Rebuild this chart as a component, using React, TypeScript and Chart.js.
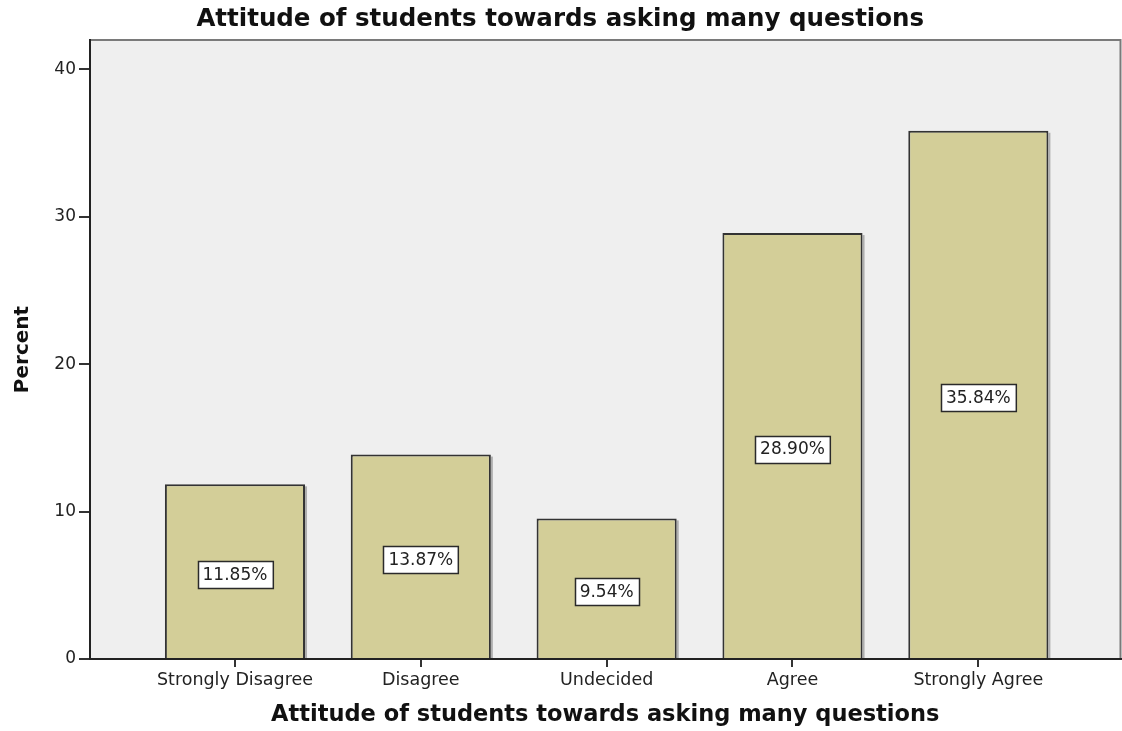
import React, { useEffect, useRef } from "react";
import { Chart, registerables } from "chart.js";

Chart.register(...registerables);

const categories = ["Strongly Disagree", "Disagree", "Undecided", "Agree", "Strongly Agree"];
const percents = [11.85, 13.87, 9.54, 28.9, 35.84];
const yTicks = [0, 10, 20, 30, 40];
const chartTitle = "Attitude of students towards asking many questions";
const xTitle = "Attitude of students towards asking many questions";
const yTitle = "Percent";

const FONT = "'DejaVu Sans', Verdana, sans-serif";

// Grey plot background with a thin frame on the top and right edges
const plotFrame = {
  id: "plotFrame",
  beforeDraw(chart: any) {
    const { ctx, chartArea } = chart;
    const { left, top, right, bottom } = chartArea;
    ctx.save();
    ctx.fillStyle = "#efefef";
    ctx.fillRect(left, top, right - left, bottom - top);
    ctx.strokeStyle = "#7a7a7a";
    ctx.lineWidth = 2;
    ctx.beginPath();
    ctx.moveTo(left, top);
    ctx.lineTo(right, top);
    ctx.lineTo(right, bottom);
    ctx.stroke();
    ctx.restore();
  },
};

// Soft shadow strip on the right side of each bar
const barShadow = {
  id: "barShadow",
  beforeDatasetsDraw(chart: any) {
    const { ctx } = chart;
    const meta = chart.getDatasetMeta(0);
    ctx.save();
    ctx.fillStyle = "rgba(120,120,120,0.55)";
    meta.data.forEach((bar: any) => {
      const half = bar.width / 2;
      ctx.fillRect(bar.x + half, bar.y + 2, 2, bar.base - bar.y - 2);
    });
    ctx.restore();
  },
};

// Boxed percentage labels near the middle height of each bar
const valueBoxes = {
  id: "valueBoxes",
  afterDatasetsDraw(chart: any) {
    const { ctx } = chart;
    const yScale = chart.scales.y;
    const meta = chart.getDatasetMeta(0);
    ctx.save();
    ctx.font = `17px ${FONT}`;
    ctx.textAlign = "center";
    ctx.textBaseline = "middle";
    meta.data.forEach((bar: any, i: number) => {
      const v = percents[i];
      const text = `${v.toFixed(2)}%`;
      const cy = yScale.getPixelForValue(v / 2) + 3;
      const w = ctx.measureText(text).width + 10;
      const h = 27;
      const x0 = Math.round(bar.x - w / 2) + 0.5;
      const y0 = Math.round(cy - h / 2) + 0.5;
      ctx.fillStyle = "#ffffff";
      ctx.fillRect(x0, y0, w, h);
      ctx.strokeStyle = "#2a2a2a";
      ctx.lineWidth = 1.5;
      ctx.strokeRect(x0, y0, w, h);
      ctx.fillStyle = "#222222";
      ctx.fillText(text, bar.x, cy + 1);
    });
    ctx.restore();
  },
};

export default function App() {
  const canvasRef = useRef<HTMLCanvasElement | null>(null);

  useEffect(() => {
    if (!canvasRef.current) return;
    const chart = new Chart(canvasRef.current, {
      type: "bar",
      data: {
        datasets: [
          {
            data: percents.map((p, i) => ({ x: i, y: p })),
            backgroundColor: "#d3ce98",
            borderColor: "#333333",
            borderWidth: 2,
            borderSkipped: "bottom",
            barPercentage: 1,
            categoryPercentage: 0.754,
          },
        ],
      },
      options: {
        responsive: false,
        animation: false,
        devicePixelRatio: 1,
        layout: { padding: { left: 0, right: 1.5, top: 0, bottom: 0 } },
        plugins: {
          legend: { display: false },
          tooltip: { enabled: false },
          title: {
            display: true,
            text: chartTitle,
            color: "#111111",
            font: { family: FONT, size: 24.5, weight: "bold", lineHeight: 1.2 },
            padding: { top: 5, bottom: 5.6 },
          },
        },
        scales: {
          x: {
            type: "linear",
            offset: false,
            min: -0.78,
            max: 4.765,
            afterBuildTicks(scale: any) {
              scale.ticks = categories.map((_, i) => ({ value: i }));
            },
            afterFit(scale: any) {
              scale.height = 72;
            },
            ticks: {
              autoSkip: false,
              maxRotation: 0,
              padding: 3,
              color: "#222222",
              font: { family: FONT, size: 17.5 },
              callback: (value: any) => categories[value as number] ?? "",
            },
            grid: {
              offset: false,
              drawOnChartArea: false,
              drawTicks: true,
              tickLength: 8,
              color: "#333333",
              lineWidth: 2,
            },
            border: { display: true, color: "#222222", width: 2 },
            title: {
              display: true,
              text: xTitle,
              color: "#111111",
              font: { family: FONT, size: 22.5, weight: "bold", lineHeight: 1.2 },
              padding: { top: 0, bottom: 2 },
            },
          },
          y: {
            type: "linear",
            min: 0,
            max: 42,
            afterBuildTicks(scale: any) {
              scale.ticks = yTicks.map((v) => ({ value: v }));
            },
            afterFit(scale: any) {
              scale.width = 90;
            },
            ticks: {
              padding: 3,
              color: "#222222",
              font: { family: FONT, size: 17 },
            },
            grid: {
              drawOnChartArea: false,
              drawTicks: true,
              tickLength: 11,
              color: "#333333",
              lineWidth: 2,
            },
            border: { display: true, color: "#222222", width: 2 },
            title: {
              display: true,
              text: yTitle,
              color: "#111111",
              font: { family: FONT, size: 20, weight: "bold", lineHeight: 1.2 },
              padding: { top: 11, bottom: 0 },
            },
          },
        },
      },
      plugins: [plotFrame, barShadow, valueBoxes],
    });
    return () => chart.destroy();
  }, []);

  return (
    <div style={{ position: "fixed", left: 0, top: 0, width: 1122, height: 731, background: "#ffffff" }}>
      <canvas ref={canvasRef} width={1122} height={731} style={{ width: 1122, height: 731, display: "block" }} />
    </div>
  );
}
